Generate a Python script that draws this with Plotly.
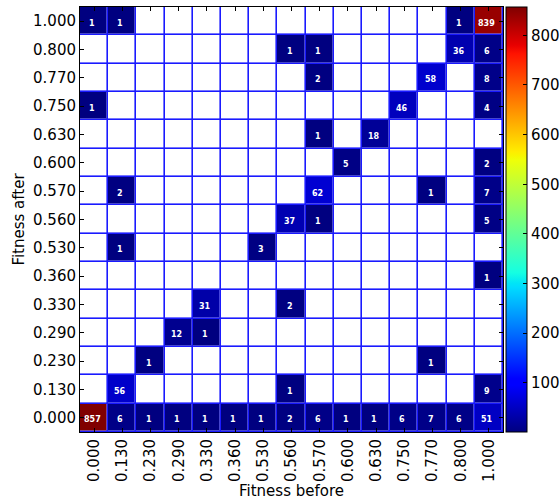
import numpy as np
import plotly.graph_objects as go

# Fitness levels (shared by both axes), bottom-to-top / left-to-right
fitness_levels = ["0.000", "0.130", "0.230", "0.290", "0.330", "0.360", "0.530",
                  "0.560", "0.570", "0.600", "0.630", "0.750", "0.770", "0.800", "1.000"]

# Transition counts, one list per "fitness after" row (columns follow fitness_levels)
after_0000 = [857, 6, 1, 1, 1, 1, 1, 2, 6, 1, 1, 6, 7, 6, 51]
after_0130 = [0, 56, 0, 0, 0, 0, 0, 1, 0, 0, 0, 0, 0, 0, 9]
after_0230 = [0, 0, 1, 0, 0, 0, 0, 0, 0, 0, 0, 0, 1, 0, 0]
after_0290 = [0, 0, 0, 12, 1, 0, 0, 0, 0, 0, 0, 0, 0, 0, 0]
after_0330 = [0, 0, 0, 0, 31, 0, 0, 2, 0, 0, 0, 0, 0, 0, 0]
after_0360 = [0, 0, 0, 0, 0, 0, 0, 0, 0, 0, 0, 0, 0, 0, 1]
after_0530 = [0, 1, 0, 0, 0, 0, 3, 0, 0, 0, 0, 0, 0, 0, 0]
after_0560 = [0, 0, 0, 0, 0, 0, 0, 37, 1, 0, 0, 0, 0, 0, 5]
after_0570 = [0, 2, 0, 0, 0, 0, 0, 0, 62, 0, 0, 0, 1, 0, 7]
after_0600 = [0, 0, 0, 0, 0, 0, 0, 0, 0, 5, 0, 0, 0, 0, 2]
after_0630 = [0, 0, 0, 0, 0, 0, 0, 0, 1, 0, 18, 0, 0, 0, 0]
after_0750 = [1, 0, 0, 0, 0, 0, 0, 0, 0, 0, 0, 46, 0, 0, 4]
after_0770 = [0, 0, 0, 0, 0, 0, 0, 0, 2, 0, 0, 0, 58, 0, 8]
after_0800 = [0, 0, 0, 0, 0, 0, 0, 1, 1, 0, 0, 0, 0, 36, 6]
after_1000 = [1, 1, 0, 0, 0, 0, 0, 0, 0, 0, 0, 0, 0, 1, 839]

colorbar_ticks = [100, 200, 300, 400, 500, 600, 700, 800]

counts = np.array([after_0000, after_0130, after_0230, after_0290, after_0330,
                   after_0360, after_0530, after_0560, after_0570, after_0600,
                   after_0630, after_0750, after_0770, after_0800, after_1000], dtype=float)
masked = np.where(counts > 0, counts, np.nan)
z_min = np.nanmin(masked)
z_max = np.nanmax(masked)


def jet_colorscale():
    """Piecewise-linear 'jet' map built from its segment definition."""
    seg = {
        "r": [(0, 0), (0.35, 0), (0.66, 1), (0.89, 1), (1, 0.5)],
        "g": [(0, 0), (0.125, 0), (0.375, 1), (0.64, 1), (0.91, 0), (1, 0)],
        "b": [(0, 0.5), (0.11, 1), (0.34, 1), (0.65, 0), (1, 0)],
    }
    stops = sorted({p for s in seg.values() for p, _ in s})
    scale = []
    for p in stops:
        rgb = [np.interp(p, [a for a, _ in seg[c]], [v for _, v in seg[c]]) for c in "rgb"]
        scale.append([p, "rgb({:.0f},{:.0f},{:.0f})".format(*(255 * np.array(rgb)))])
    return scale


font_family = "DejaVu Sans"
grid_blue = "#1a1aff"
gap = 1.6

fig = go.Figure()

# White base layer so empty cells read as white with blue edges
fig.add_trace(go.Heatmap(
    x=fitness_levels, y=fitness_levels, z=np.ones_like(counts),
    colorscale=[[0, "white"], [1, "white"]], showscale=False,
    xgap=gap, ygap=gap, hoverinfo="skip",
))

fig.add_trace(go.Heatmap(
    x=fitness_levels, y=fitness_levels, z=masked,
    zmin=z_min, zmax=z_max, colorscale=jet_colorscale(),
    xgap=gap, ygap=gap,
    colorbar=dict(
        x=1.007, xanchor="left", xpad=0, ypad=0,
        y=0.5, yanchor="middle", len=1, lenmode="fraction",
        thickness=21, outlinewidth=1, outlinecolor="black",
        tickvals=colorbar_ticks, ticks="inside", ticklen=4, tickcolor="black",
        tickfont=dict(family=font_family, size=15, color="black"),
    ),
))

# Count labels in each non-empty cell (category axes are indexed by position)
for i in range(len(fitness_levels)):
    for j in range(len(fitness_levels)):
        if counts[i, j] > 0:
            fig.add_annotation(
                x=j, y=i, text=str(int(counts[i, j])), showarrow=False,
                font=dict(family=font_family, size=8, color="white", weight="bold"),
                xshift=-2, yshift=-2,
            )

axis_common = dict(
    type="category", showgrid=False, zeroline=False,
    showline=True, linecolor="black", linewidth=1, mirror="ticks",
    ticks="inside", ticklen=4, tickcolor="black",
    tickfont=dict(family=font_family, size=15, color="black"),
)

fig.update_layout(
    width=560, height=500,
    margin=dict(l=80, r=57, t=7, b=68, autoexpand=False),
    paper_bgcolor="white", plot_bgcolor=grid_blue,
    font=dict(family=font_family, color="black"),
    xaxis=dict(**axis_common, tickangle=-90,
               title=dict(text="Fitness before", standoff=4,
                          font=dict(family=font_family, size=15))),
    yaxis=dict(**axis_common,
               title=dict(text="Fitness after", standoff=4,
                          font=dict(family=font_family, size=15))),
)

fig.write_html("out.html")
